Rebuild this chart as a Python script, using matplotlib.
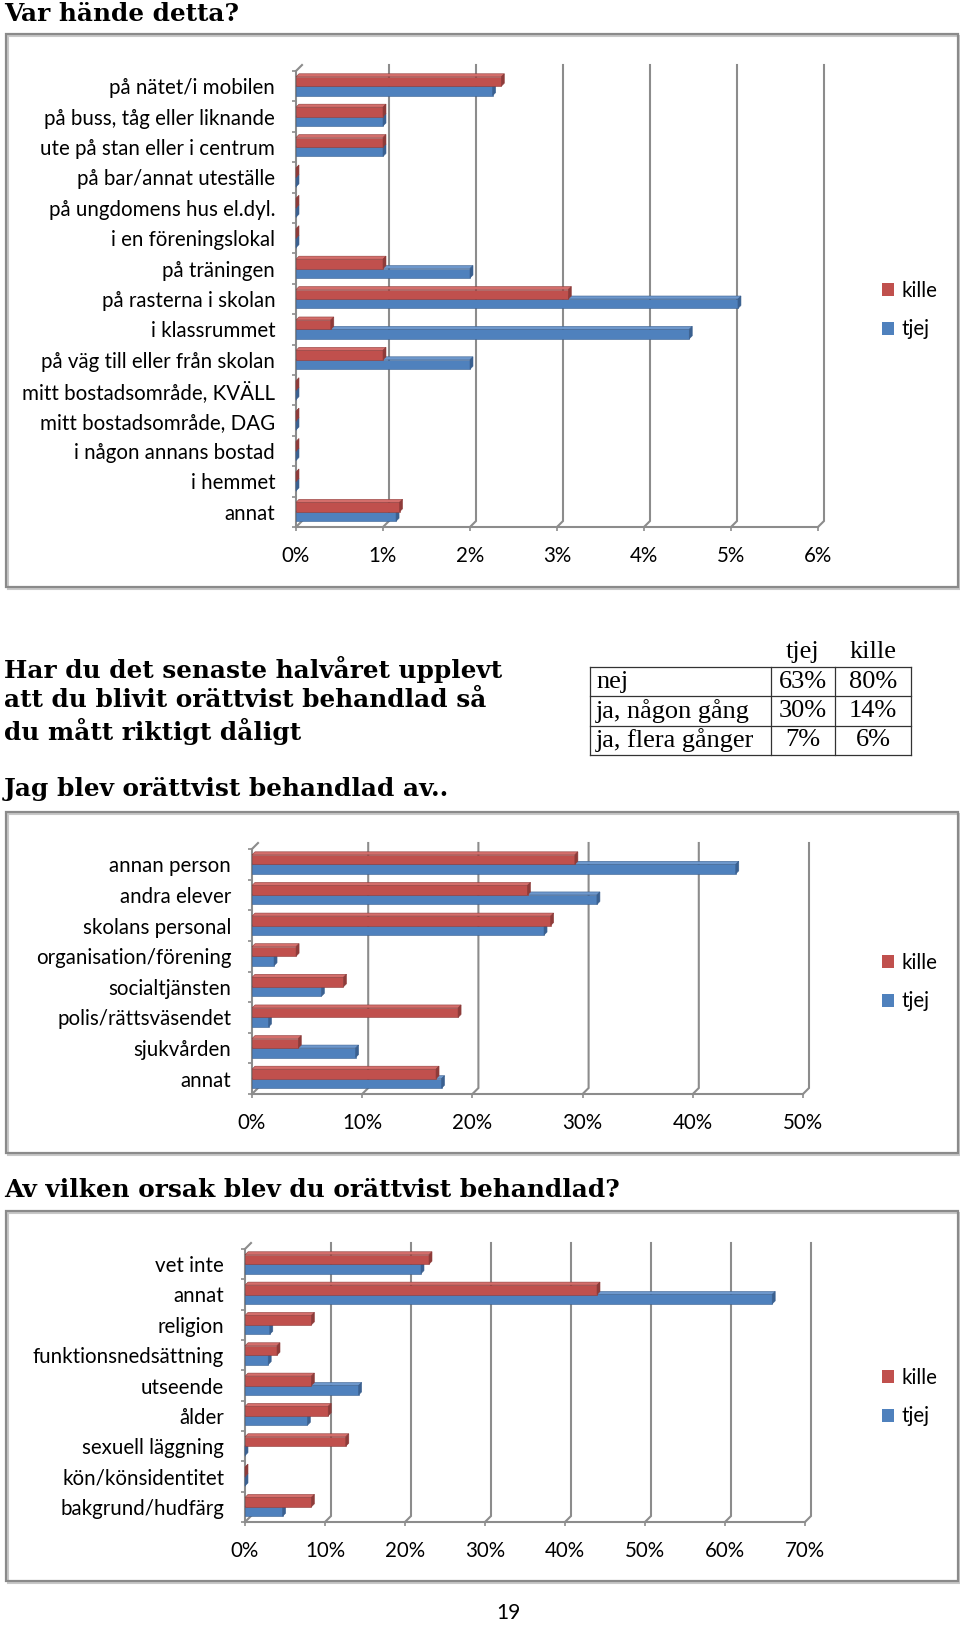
# Recreates a Swedish survey page: three 3D-style clustered bar charts + a small table.
import numpy as np
import matplotlib.pyplot as plt
from matplotlib.patches import Rectangle, Polygon, Patch

W, H = 960, 1626
RED, BLUE = '#C0504D', '#4F81BD'
RED_DARK, BLUE_DARK = '#8E3B39', '#3A6090'
RED_TOP, BLUE_TOP = '#D46E6B', '#6E98CC'
GRID = '#8C8C8C'
LABEL_FONT = 'Lato'
HEAD_FONT = 'DejaVu Serif'

# ---- chart 1: Var hände detta? (percent)
places = ["på nätet/i mobilen", "på buss, tåg eller liknande", "ute på stan eller i centrum",
          "på bar/annat uteställe", "på ungdomens hus el.dyl.", "i en föreningslokal",
          "på träningen", "på rasterna i skolan", "i klassrummet",
          "på väg till eller från skolan", "mitt bostadsområde, KVÄLL",
          "mitt bostadsområde, DAG", "i någon annans bostad", "i hemmet", "annat"]
places_kille = [2.36, 1.0, 1.0, 0, 0, 0, 1.0, 3.13, 0.4, 1.0, 0, 0, 0, 0, 1.19]
places_tjej = [2.26, 1.0, 1.0, 0, 0, 0, 2.0, 5.08, 4.52, 2.0, 0, 0, 0, 0, 1.15]
places_ticks = [0, 1, 2, 3, 4, 5, 6]

# ---- table
table_rows = ["nej", "ja, någon gång", "ja, flera gånger"]
table_tjej = ["63%", "30%", "7%"]
table_kille = ["80%", "14%", "6%"]

# ---- chart 2: Jag blev orättvist behandlad av..
who = ["annan person", "andra elever", "skolans personal", "organisation/förening",
       "socialtjänsten", "polis/rättsväsendet", "sjukvården", "annat"]
who_kille = [29.3, 25.0, 27.1, 4.0, 8.3, 18.7, 4.2, 16.7]
who_tjej = [43.9, 31.3, 26.5, 2.0, 6.3, 1.5, 9.4, 17.2]
who_ticks = [0, 10, 20, 30, 40, 50]

# ---- chart 3: Av vilken orsak blev du orättvist behandlad?
why = ["vet inte", "annat", "religion", "funktionsnedsättning", "utseende", "ålder",
       "sexuell läggning", "kön/könsidentitet", "bakgrund/hudfärg"]
why_kille = [23.0, 44.0, 8.3, 4.0, 8.3, 10.4, 12.6, 0, 8.3]
why_tjej = [22.0, 65.9, 3.1, 2.9, 14.2, 7.8, 0, 0, 4.7]
why_ticks = [0, 10, 20, 30, 40, 50, 60, 70]


def fx(x):
    return x / W


def fy(y):
    return 1 - y / H


def frame(fig, x0, y0, x1, y1):
    # light shadow + gray border, like the Word chart boxes
    fig.add_artist(Rectangle((fx(x0 + 2), fy(y1 + 2)), fx(x1 - x0), (y1 - y0) / H,
                             transform=fig.transFigure, fill=False, ec='#C8C8C8', lw=1.5))
    fig.add_artist(Rectangle((fx(x0), fy(y1)), fx(x1 - x0), (y1 - y0) / H,
                             transform=fig.transFigure, fill=False, ec='#8A8A8A', lw=1.6))


def bar_chart(fig, cats, kille, tjej, ticks, left, right, top, bottom, legend_y, fs=14.8):
    n = len(cats)
    ax = fig.add_axes([fx(left), fy(bottom), fx(right - left), (bottom - top) / H])
    xmax = ticks[-1]
    ax.set_xlim(0, xmax)
    ax.set_ylim(-0.5, n - 0.5)
    ppx = xmax / (right - left)      # data units per pixel, x
    ppy = n / (bottom - top)         # data units per pixel, y
    gdx, gdy = 6 * ppx, 6 * ppy      # back wall offset
    bdx, bdy = 3 * ppx, 3 * ppy      # bar depth

    for s in ax.spines.values():
        s.set_visible(False)

    # back wall gridlines with slanted floor connectors
    ybot, ytop = -0.5, n - 0.5
    for t in ticks[1:]:
        ax.plot([t, t + gdx, t + gdx], [ybot, ybot + gdy, ytop + gdy], color=GRID, lw=1.5,
                clip_on=False, zorder=1, solid_joinstyle='miter')
    # floor front edge and left wall
    ax.plot([0, xmax], [ybot, ybot], color=GRID, lw=1.5, clip_on=False, zorder=1)
    ax.plot([0, 0], [ybot, ytop], color=GRID, lw=1.5, clip_on=False, zorder=1)
    ax.plot([0, gdx], [ytop, ytop + gdy], color=GRID, lw=1.5, clip_on=False, zorder=1)
    ax.plot([0, gdx], [ybot, ybot + gdy], color=GRID, lw=1.5, clip_on=False, zorder=1)

    pos = np.arange(n)[::-1]
    h = 0.31
    z = 3
    for i in range(n):
        for val, off, face, dark, topc in [(tjej[i], -h / 2, BLUE, BLUE_DARK, BLUE_TOP),
                                           (kille[i], h / 2, RED, RED_DARK, RED_TOP)]:
            y0 = pos[i] + off - h / 2
            y1 = y0 + h
            ax.barh(pos[i] + off, val, height=h, color=face, edgecolor=dark, lw=0.4, zorder=z)
            ax.add_patch(Polygon([(0, y1), (val, y1), (val + bdx, y1 + bdy), (bdx, y1 + bdy)],
                                 closed=True, fc=topc, ec=dark, lw=0.4, zorder=z, clip_on=False))
            ax.add_patch(Polygon([(val, y0), (val + bdx, y0 + bdy), (val + bdx, y1 + bdy), (val, y1)],
                                 closed=True, fc=dark, ec=dark, lw=0.4, zorder=z, clip_on=False))
            z += 1

    ax.set_yticks(pos)
    ax.set_yticklabels(cats, fontsize=fs, fontfamily=LABEL_FONT)
    ax.set_yticks(np.arange(n + 1) - 0.5, minor=True)
    ax.tick_params(axis='y', which='major', length=0, pad=15)
    ax.tick_params(axis='y', which='minor', length=3, color=GRID, width=1.2)
    ax.set_xticks(ticks)
    ax.set_xticklabels([f"{t}%" for t in ticks], fontsize=fs, fontfamily=LABEL_FONT)
    ax.tick_params(axis='x', length=3, color=GRID, width=1.2, pad=11)

    handles = [Patch(facecolor=RED), Patch(facecolor=BLUE)]
    fig.legend(handles, ["kille", "tjej"], loc='center left',
               bbox_to_anchor=(fx(882), fy(legend_y)), frameon=False,
               prop={'family': LABEL_FONT, 'size': fs}, handlelength=0.58, handleheight=0.58,
               handletextpad=0.35, labelspacing=0.92, borderpad=0, borderaxespad=0)
    return ax


def main():
    fig = plt.figure(figsize=(W / 100, H / 100), dpi=100)

    head = dict(fontfamily=HEAD_FONT, fontweight='bold', fontsize=17.8, va='center', ha='left')

    fig.text(fx(4), fy(21), "Var hände detta?", fontfamily=HEAD_FONT, fontweight='bold',
             fontsize=17.8, va='baseline', ha='left')
    frame(fig, 6, 34, 958, 587)
    bar_chart(fig, places, places_kille, places_tjej, places_ticks,
              296, 818, 71, 527, 310)

    for k, line in enumerate(["Har du det senaste halvåret upplevt",
                              "att du blivit orättvist behandlad så",
                              "du mått riktigt dåligt"]):
        fig.text(fx(4), fy(669 + 31 * k), line, **head)

    # small table
    tx0, tx1, tx2, tx3 = 590, 771, 835, 911
    ty0, rh = 667, 29.3
    tfont = dict(fontfamily='Liberation Serif', fontsize=19, va='center')
    fig.text(fx((tx1 + tx2) / 2), fy(652), "tjej", ha='center', **tfont)
    fig.text(fx((tx2 + tx3) / 2), fy(652), "kille", ha='center', **tfont)
    for r in range(len(table_rows)):
        yc = ty0 + rh * (r + 0.5)
        fig.text(fx(tx0 + 6), fy(yc), table_rows[r], ha='left', **tfont)
        fig.text(fx((tx1 + tx2) / 2), fy(yc), table_tjej[r], ha='center', **tfont)
        fig.text(fx((tx2 + tx3) / 2), fy(yc), table_kille[r], ha='center', **tfont)
    for r in range(len(table_rows) + 1):
        fig.add_artist(plt.Line2D([fx(tx0), fx(tx3)], [fy(ty0 + rh * r)] * 2, color='#333333', lw=0.9))
    for xx in [tx0, tx1, tx2, tx3]:
        fig.add_artist(plt.Line2D([fx(xx)] * 2, [fy(ty0), fy(ty0 + rh * 3)], color='#333333', lw=0.9))

    fig.text(fx(4), fy(789), "Jag blev orättvist behandlad av..", **head)
    frame(fig, 6, 812, 958, 1153)
    bar_chart(fig, who, who_kille, who_tjej, who_ticks,
              252, 803, 849, 1094, 982)

    fig.text(fx(4), fy(1190), "Av vilken orsak blev du orättvist behandlad?", **head)
    frame(fig, 6, 1211, 958, 1581)
    bar_chart(fig, why, why_kille, why_tjej, why_ticks,
              245, 805, 1249, 1522, 1397)

    fig.text(fx(508), fy(1613), "19", fontfamily=LABEL_FONT, fontsize=15, ha='center', va='center')

    fig.savefig("out.png", dpi=100)


if __name__ == '__main__':
    main()
